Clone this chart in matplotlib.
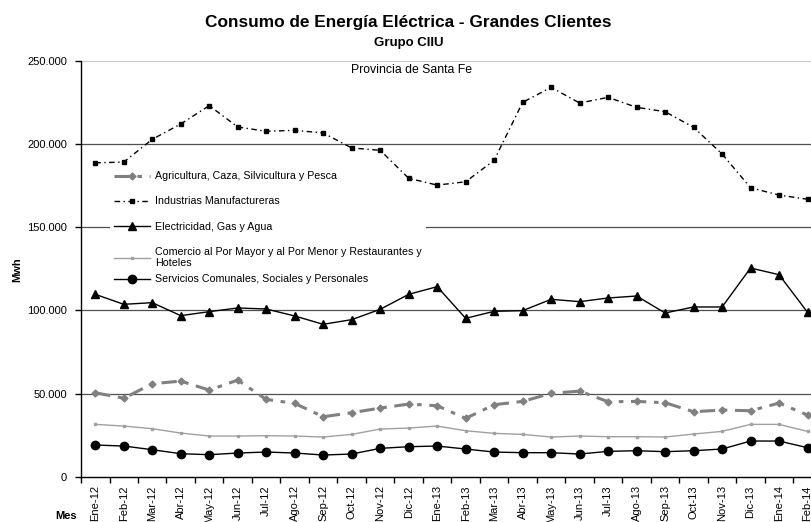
import matplotlib
matplotlib.use("Agg")
import matplotlib.pyplot as plt
import numpy as np

plt.rcParams['font.family'] = ['Liberation Sans', 'DejaVu Sans']

# ---- data (Mwh) ----
meses = ['Ene-12', 'Feb-12', 'Mar-12', 'Abr-12', 'May-12', 'Jun-12', 'Jul-12',
         'Ago-12', 'Sep-12', 'Oct-12', 'Nov-12', 'Dic-12', 'Ene-13', 'Feb-13',
         'Mar-13', 'Abr-13', 'May-13', 'Jun-13', 'Jul-13', 'Ago-13', 'Sep-13',
         'Oct-13', 'Nov-13', 'Dic-13', 'Ene-14', 'Feb-14']

agricultura = [50600, 47300, 56000, 57600, 52200, 58200, 46600, 44200, 36200,
               38600, 41400, 43800, 42800, 35200, 43400, 45400, 50200, 51600,
               45200, 45400, 44600, 39200, 40200, 39800, 44400, 37200]

industrias = [188700, 189100, 202800, 212000, 223000, 210200, 207600, 208200,
              206600, 197600, 196200, 179400, 175300, 177300, 190200, 225000,
              234000, 224600, 228000, 222000, 219400, 210000, 194000, 173700,
              169300, 166800]

electricidad = [109700, 103700, 104700, 96900, 99300, 101500, 100900, 96700,
                91700, 94500, 100700, 109700, 114300, 95300, 99500, 99900,
                106700, 105300, 107500, 108700, 98500, 102100, 102100, 125500,
                121500, 98900]

comercio = [31600, 30600, 29000, 26400, 24600, 24600, 24800, 24600, 24000,
            25600, 28800, 29400, 30600, 27800, 26200, 25600, 24000, 24600,
            24200, 24200, 24000, 25800, 27400, 31600, 31600, 27400]

servicios = [19200, 18600, 16400, 14000, 13400, 14400, 15000, 14400, 13200,
             13800, 17200, 18200, 18600, 16800, 15000, 14600, 14600, 13800,
             15400, 15800, 15200, 15800, 16800, 21600, 21600, 17600]

y_ticks = [0, 50000, 100000, 150000, 200000, 250000]
y_labels = ['0', '50.000', '100.000', '150.000', '200.000', '250.000']

# ---- figure ----
fig = plt.figure(figsize=(8.11, 5.22), dpi=100)
# plot area runs past the right edge of the picture, as in the original
ax = fig.add_axes([0.0999, 0.0862, 0.9134, 0.7975])

x = np.arange(len(meses))

# horizontal gridlines
for v in y_ticks[1:-1]:
    ax.axhline(v, color='#505050', lw=0.9, zorder=1)
ax.axhline(y_ticks[-1], color='#c8c8c8', lw=1.6, zorder=1)

l_agr, = ax.plot(x, agricultura, color='#808080', lw=2.2,
                 linestyle=(0, (5, 2.5, 1.5, 2.5)), marker='D', ms=3.5,
                 zorder=3)
l_ind, = ax.plot(x, industrias, color='black', lw=1.0,
                 linestyle=(0, (4, 2.5, 1, 2.5)), marker='s', ms=3.3,
                 zorder=3)
l_ele, = ax.plot(x, electricidad, color='black', lw=1.0, marker='^', ms=6,
                 zorder=3)
l_com, = ax.plot(x, comercio, color='#a0a0a0', lw=1.0, marker='s', ms=2,
                 zorder=3)
l_ser, = ax.plot(x, servicios, color='black', lw=1.0, marker='o', ms=6,
                 zorder=3)

ax.set_xlim(-0.5, len(meses) - 0.5)
ax.set_ylim(0, 250000)

ax.set_yticks(y_ticks)
ax.set_yticklabels(y_labels, fontsize=8)
ax.tick_params(axis='y', length=4, width=1, pad=6)

ax.set_xticks(x)
ax.set_xticklabels(meses, rotation=90, fontsize=8)
ax.set_xticks(np.arange(-0.5, len(meses), 1), minor=True)
ax.tick_params(axis='x', which='major', length=0, pad=6)
ax.tick_params(axis='x', which='minor', length=4, width=1)

for s in ['top', 'right']:
    ax.spines[s].set_visible(False)
ax.spines['left'].set_linewidth(1)
ax.spines['bottom'].set_linewidth(1)

# titles
fig.text(0.504, 1 - 22 / 522, 'Consumo de Energía Eléctrica - Grandes Clientes',
         ha='center', va='center', fontsize=12.4, fontweight='bold')
fig.text(0.504, 1 - 43 / 522, 'Grupo CIIU', ha='center', va='center',
         fontsize=9.5, fontweight='bold')
fig.text(0.508, 1 - 70 / 522, 'Provincia de Santa Fe', ha='center',
         va='center', fontsize=8.8)

fig.text(17 / 811, 1 - 270 / 522, 'Mwh', rotation=90, ha='center',
         va='center', fontsize=8, fontweight='bold')
fig.text(66 / 811, 1 - 516 / 522, 'Mes', ha='center', va='center',
         fontsize=8, fontweight='bold')

# legend (white box hides the gridline but sits under the series)
leg1 = ax.legend([l_agr, l_ind, l_ele, l_com],
                 ['Agricultura, Caza, Silvicultura y Pesca',
                  'Industrias Manufactureras',
                  'Electricidad, Gas y Agua',
                  'Comercio al Por Mayor y al Por Menor y Restaurantes y\nHoteles'],
                 loc='upper left', bbox_to_anchor=(110 / 811, 1 - 167 / 522),
                 bbox_transform=fig.transFigure, fontsize=7.7,
                 frameon=True, facecolor='white', edgecolor='none',
                 framealpha=1, fancybox=False, borderpad=0.4,
                 labelspacing=1.42, handlelength=3.3, handletextpad=0.5,
                 borderaxespad=0)
leg1.set_zorder(2)
ax.add_artist(leg1)
leg2 = ax.legend([l_ser], ['Servicios Comunales, Sociales y Personales'],
                 loc='upper left', bbox_to_anchor=(110 / 811, 1 - 270 / 522),
                 bbox_transform=fig.transFigure, fontsize=7.7,
                 frameon=True, facecolor='white', edgecolor='none',
                 framealpha=1, fancybox=False, borderpad=0.4,
                 handlelength=3.3, handletextpad=0.5, borderaxespad=0)
leg2.set_zorder(2)

fig.savefig('out.png', dpi=100)
